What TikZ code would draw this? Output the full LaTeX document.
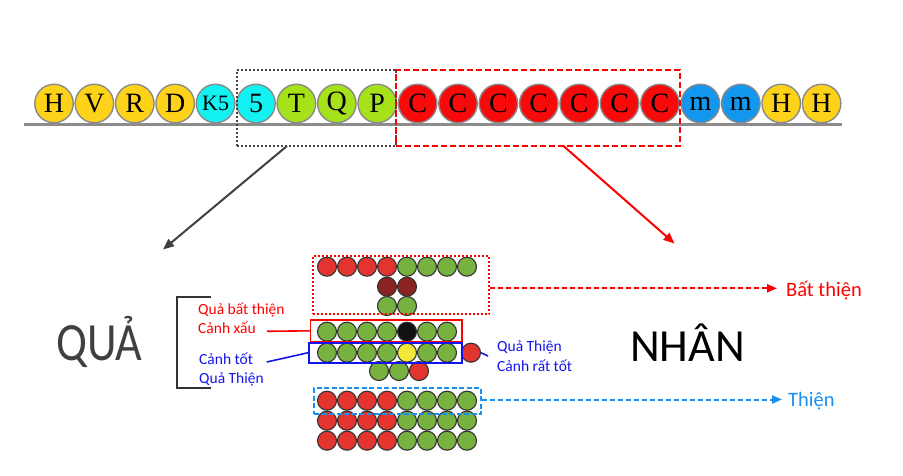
\documentclass[tikz,border=0pt]{standalone}
\usepackage{fontspec}
\setmainfont{Carlito}
\newfontfamily\ballfont{Liberation Serif}
\usetikzlibrary{arrows.meta}
\definecolor{byel}{HTML}{FFD21A}
\definecolor{bcyan}{HTML}{12F2F2}
\definecolor{blime}{HTML}{A5E21A}
\definecolor{bred}{HTML}{F80A0A}
\definecolor{bblue}{HTML}{1296EE}
\definecolor{ballgray}{HTML}{8A8A8A}
\definecolor{linegray}{HTML}{8C8C8C}
\definecolor{boxgray}{HTML}{444444}
\definecolor{arrgray}{HTML}{404040}
\definecolor{sred}{HTML}{E3342F}
\definecolor{sgreen}{HTML}{77B13F}
\definecolor{sdark}{HTML}{8C2323}
\definecolor{sblack}{HTML}{111111}
\definecolor{syel}{HTML}{F2E83A}
\definecolor{sedge}{HTML}{333333}
\definecolor{lblred}{HTML}{FF0000}
\definecolor{lblblue}{HTML}{1414F0}
\definecolor{lbllight}{HTML}{1A8FEF}
\definecolor{qgray}{HTML}{404040}
\newcommand{\kfive}{{\fontsize{22}{22}\selectfont K5}}
\begin{document}
\begin{tikzpicture}[x=1pt,y=-1pt,
  topball/.style={circle,minimum size=38.5pt,inner sep=0pt,draw=ballgray,line width=1.4pt,
    font=\ballfont\fontsize{28}{28}\selectfont},
  sball/.style={circle,minimum size=19pt,inner sep=0pt,draw=sedge,line width=1.1pt},
  boxnode/.style={inner sep=0pt,fill=none},
  smalllbl/.style={anchor=base west,inner sep=0pt,font=\fontsize{15.5}{15.5}\selectfont},
  biglbl/.style={anchor=base west,inner sep=0pt,font=\fontsize{20.5}{20.5}\selectfont},
  solidtip/.style={-{Triangle[length=11pt,width=9pt]}},
  dashtip/.style={-{Triangle[length=10pt,width=8pt]}}
]
\useasboundingbox (0,0) rectangle (903,476);

% top row of balls
\foreach \t/\c [count=\i from 0] in {H/byel,V/byel,R/byel,D/byel,\kfive/bcyan,5/bcyan,T/blime,Q/blime,P/blime,C/bred,C/bred,C/bred,C/bred,C/bred,C/bred,C/bred,m/bblue,m/bblue,H/byel,H/byel}
  \node[topball,fill=\c] (t\i) at (54+40.4*\i,103.5) {\t};

\coordinate (lineL) at (24,124.5);
\coordinate (lineR) at (842,124.5);
\draw[line width=3pt,linegray] (lineL) -- (lineR);

% top selection boxes
\node[boxnode,draw=boxgray,line width=2pt,dash pattern=on 2pt off 2pt,
  minimum width=159pt,minimum height=76pt] (gbox) at (316.5,108) {};
\node[boxnode,draw=red,line width=2pt,dash pattern=on 6pt off 3pt,
  minimum width=284pt,minimum height=76pt] (rbox) at (538,108) {};

% big arrows
\coordinate (gaS) at (287,146);
\coordinate (gaE) at (163,249.5);
\draw[solidtip,line width=2pt,arrgray] (gaS) -- (gaE);
\coordinate (raS) at (563.5,146);
\coordinate (raE) at (674.5,243.5);
\draw[solidtip,line width=2pt,red] (raS) -- (raE);

% lower balls
\foreach \c [count=\i from 0] in {sred,sred,sred,sred,sgreen,sgreen,sgreen,sgreen}
  \node[sball,fill=\c] (a\i) at (327+20*\i,266.7) {};
\node[sball,fill=sdark] (b0) at (387,286.7) {};
\node[sball,fill=sdark] (b1) at (407,286.7) {};
\node[sball,fill=sgreen] (c0) at (387,306) {};
\node[sball,fill=sgreen] (c1) at (407,306) {};
\foreach \c [count=\i from 0] in {sgreen,sgreen,sgreen,sgreen,sblack,sgreen,sgreen}
  \node[sball,fill=\c] (d\i) at (327+20*\i,331.7) {};
\foreach \c [count=\i from 0] in {sgreen,sgreen,sgreen,sgreen,syel,sgreen,sgreen}
  \node[sball,fill=\c] (e\i) at (327+20*\i,352.7) {};
\node[sball,fill=sred] (xr) at (471,352.7) {};
\node[sball,fill=sgreen] (f0) at (379,371) {};
\node[sball,fill=sgreen] (f1) at (399,371) {};
\node[sball,fill=sred] (f2) at (419,371) {};
\foreach \r/\y in {g/400.7,h/420.7,k/440.7}
  \foreach \c [count=\i from 0] in {sred,sred,sred,sred,sgreen,sgreen,sgreen,sgreen}
    \node[sball,fill=\c] (\r\i) at (327+20*\i,\y) {};

% lower boxes
\node[boxnode,draw=red,line width=2pt,dash pattern=on 2pt off 2pt,
  minimum width=176.6pt,minimum height=58pt] (topbox) at (401,285) {};
\node[boxnode,draw=red,line width=1.6pt,
  minimum width=151.3pt,minimum height=21.7pt] (redbox) at (386.3,330.8) {};
\node[boxnode,draw=lblblue,line width=2pt,
  minimum width=152.7pt,minimum height=20pt] (bluebox) at (385.6,352.7) {};
\node[boxnode,draw=lbllight,line width=2pt,dash pattern=on 5pt off 2.5pt,
  minimum width=167pt,minimum height=26pt] (bluedbox) at (397.5,401) {};

% labels
\node[smalllbl,text=lblred] (l1) at (198,314) {Quả bất thiện};
\node[smalllbl,text=lblred] (l2) at (198,333.3) {Cảnh xấu};
\node[smalllbl,text=lblblue] (l3) at (199,364) {Cảnh tốt};
\node[smalllbl,text=lblblue] (l4) at (199,383.3) {Quả Thiện};
\node[smalllbl,text=lblblue] (r1) at (497,351.7) {Quả Thiện};
\node[smalllbl,text=lblblue] (r2) at (497,371.7) {Cảnh rất tốt};
\node[biglbl,text=lblred] (bt) at (786,296) {Bất thiện};
\node[biglbl,text=lbllight] (th) at (788,406) {Thiện};
\node[anchor=base west,inner sep=0pt,font=\fontsize{46}{46}\selectfont] (nhan) at (630,361.7) {NHÂN};
\node[anchor=base west,inner sep=0pt,text=qgray,yscale=1.17,font=\fontsize{46}{46}\selectfont] (qua) at (56,360) {QUẢ};

% bracket
\coordinate (brT) at (211,297);
\coordinate (brB) at (211,388);
\draw[line width=2pt,sedge] (brT) -- (177,297) -- (177,388) -- (brB);

% connector lines
\coordinate (rlS) at (267,331.3);
\draw[red,line width=1.6pt] (rlS) -- (redbox.west);
\coordinate (blS) at (266.7,362);
\draw[lblblue,line width=1.6pt] (blS) -- (bluebox.west);
\coordinate (brE) at (488,356);
\draw[lblblue,line width=1.6pt] (xr.east) -- (brE);

% dashed arrows
\coordinate (btE) at (777,288.3);
\draw[dashtip,red,line width=2pt,dash pattern=on 5pt off 3pt] (topbox.east |- btE) -- (btE);
\coordinate (thE) at (782,399.5);
\draw[dashtip,lbllight,line width=2pt,dash pattern=on 5pt off 3pt] (bluedbox.east |- thE) -- (thE);
\end{tikzpicture}
\end{document}
